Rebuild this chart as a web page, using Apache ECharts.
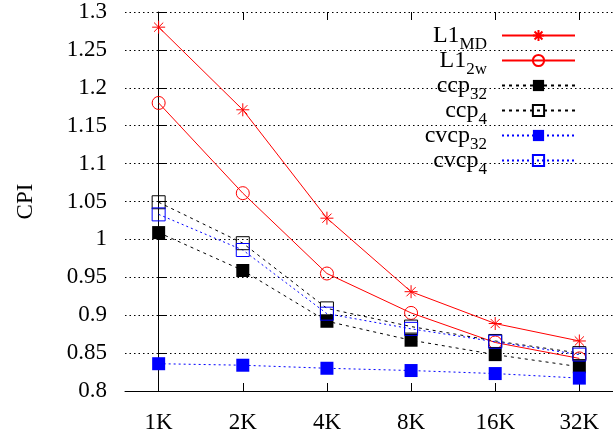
<!DOCTYPE html>
<html>
<head>
<meta charset="utf-8">
<script src="https://cdn.jsdelivr.net/npm/echarts@6/dist/echarts.min.js"></script>
<style>
  html, body { margin: 0; padding: 0; background: #fff; }
  #chart { width: 613px; height: 434px; }
</style>
</head>
<body>
<div id="chart"></div>
<script>
// Cache sizes on the x axis, CPI per configuration
const categories = ['1K', '2K', '4K', '8K', '16K', '32K'];
const yTicks = [0.8, 0.85, 0.9, 0.95, 1, 1.05, 1.1, 1.15, 1.2, 1.25, 1.3];

const l1md   = [1.280, 1.171, 1.028, 0.931, 0.889, 0.866];
const l12w   = [1.180, 1.061, 0.955, 0.903, 0.864, 0.843];
const ccp32  = [1.009, 0.959, 0.892, 0.867, 0.848, 0.832];
const ccp4   = [1.049, 0.995, 0.909, 0.885, 0.866, 0.850];
const cvcp32 = [0.836, 0.834, 0.830, 0.827, 0.823, 0.817];
const cvcp4  = [1.033, 0.986, 0.902, 0.882, 0.865, 0.848];

const FONT = '"Liberation Serif", "DejaVu Serif", serif';
const idx = categories.map((_, i) => i);
const pairs = arr => arr.map((v, i) => [i, v]);

const STAR = 'path://M0,-10L0,10M-10,0L10,0M-7.07,-7.07L7.07,7.07M-7.07,7.07L7.07,-7.07';

function mk(name, data, color, symbol, filled, dash) {
  return {
    name: name,
    type: 'line',
    data: pairs(data),
    symbol: symbol,
    symbolSize: 13,
    showSymbol: true,
    lineStyle: { color: color, width: 1, type: dash },
    itemStyle: filled
      ? { color: color, borderColor: color, borderWidth: 0 }
      : { color: 'rgba(0,0,0,0)', borderColor: color, borderWidth: 1 },
    emphasis: { disabled: true },
    animation: false
  };
}

const series = [
  mk('L1md', l1md, '#ff0000', STAR, false, 'solid'),
  mk('L12w', l12w, '#ff0000', 'circle', false, 'solid'),
  mk('ccp32', ccp32, '#000000', 'rect', true, [3, 4]),
  mk('ccp4', ccp4, '#000000', 'rect', false, [3, 4]),
  mk('cvcp32', cvcp32, '#0000ff', 'rect', true, [2, 3]),
  mk('cvcp4', cvcp4, '#0000ff', 'rect', false, [2, 3])
];

const legendText = {
  L1md: '{b|L1}{s|MD}',
  L12w: '{b|L1}{s|2w}',
  ccp32: '{b|ccp}{s|32}',
  ccp4: '{b|ccp}{s|4}',
  cvcp32: '{b|cvcp}{s|32}',
  cvcp4: '{b|cvcp}{s|4}'
};

const chart = echarts.init(document.getElementById('chart'), null, { renderer: 'canvas' });
chart.setOption({
  animation: false,
  backgroundColor: '#fff',
  textStyle: { fontFamily: FONT, color: '#000' },
  grid: { left: 125, right: 0, top: 12, bottom: 42 },
  legend: {
    orient: 'vertical',
    right: 37,
    top: 18,
    padding: 0,
    align: 'right',
    itemWidth: 73,
    itemHeight: 14,
    itemGap: -10,
    selectedMode: false,
    data: series.map(s => s.name),
    formatter: n => legendText[n],
    textStyle: {
      fontFamily: FONT,
      color: '#000',
      padding: [0, 10, 0, 0],
      rich: {
        b: { fontFamily: FONT, fontSize: 24, color: '#000', lineHeight: 24 },
        s: { fontFamily: FONT, fontSize: 17, color: '#000', lineHeight: 8, padding: [18, 0, 0, 0] }
      }
    }
  },
  xAxis: [{
    type: 'value',
    min: -0.4,
    max: 5.4,
    position: 'bottom',
    axisLine: { show: true, lineStyle: { color: '#000', width: 1 } },
    axisTick: { show: true, inside: true, length: 8, customValues: idx, lineStyle: { color: '#000' } },
    axisLabel: {
      customValues: idx,
      formatter: v => categories[Math.round(v)],
      fontFamily: FONT, fontSize: 23, color: '#000', margin: 20
    },
    splitLine: { show: false }
  }, {
    type: 'value',
    min: -0.4,
    max: 5.4,
    position: 'top',
    axisLine: { show: false },
    axisTick: { show: true, inside: true, length: 8, customValues: idx, lineStyle: { color: '#000' } },
    axisLabel: { show: false },
    splitLine: { show: false }
  }],
  yAxis: {
    type: 'value',
    min: 0.8,
    max: 1.3,
    interval: 0.05,
    name: 'CPI',
    nameLocation: 'middle',
    nameGap: 88,
    nameRotate: 90,
    nameTextStyle: { fontFamily: FONT, fontSize: 23, color: '#000' },
    axisLine: { show: true, lineStyle: { color: '#000', width: 1 } },
    axisTick: { show: true, inside: true, length: 8, lineStyle: { color: '#000' } },
    axisLabel: {
      fontFamily: FONT, fontSize: 23, color: '#000', margin: 18,
      formatter: v => String(parseFloat(v.toFixed(2)))
    },
    splitLine: { show: true, lineStyle: { color: '#000', width: 1, type: [1.5, 3] } }
  },
  series: series
});
</script>
</body>
</html>
